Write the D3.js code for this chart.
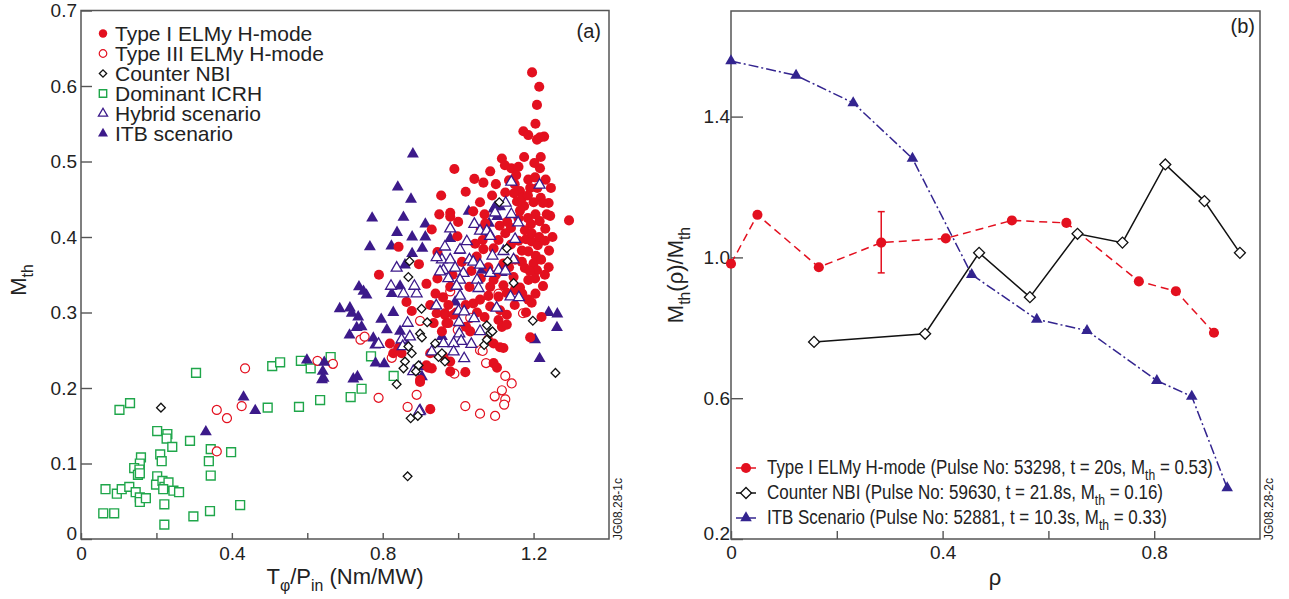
<!DOCTYPE html>
<html>
<head>
<meta charset="utf-8">
<title>Mth scatter and profiles</title>
<script src="https://cdn.jsdelivr.net/npm/d3@7"></script>
<style>
  body { margin: 0; background: #fff; }
  svg text { font-family: "Liberation Sans", Arial, Helvetica, sans-serif; fill: #222; }
</style>
</head>
<body>
<svg id="chart" width="1289" height="599"></svg>
<script>

// ---- panel (a): [T_phi/P_in, M_th] pairs ----
const typeI = [
  [1.196,0.618],[1.215,0.599],[1.209,0.575],[1.205,0.550],[1.173,0.540],[1.186,0.535],[1.209,0.529],[1.228,0.533],[1.217,0.532],
  [1.116,0.504],[1.124,0.495],[1.141,0.491],[1.160,0.493],[1.175,0.506],[1.219,0.506],[1.217,0.491],[1.202,0.498],[0.990,0.490],
  [1.085,0.487],[1.043,0.477],[1.067,0.472],[1.154,0.482],[1.186,0.476],[1.204,0.479],[1.232,0.476],[1.246,0.465],[1.191,0.465],
  [1.164,0.461],[1.148,0.458],[1.125,0.459],[1.219,0.452],[1.200,0.446],[1.175,0.441],[1.156,0.447],[1.058,0.446],[1.040,0.434],
  [0.979,0.432],[0.979,0.427],[1.244,0.428],[1.216,0.421],[1.294,0.422],[1.193,0.417],[1.164,0.435],[1.231,0.411],[1.177,0.409],
  [1.125,0.405],[1.072,0.418],[0.998,0.401],[1.045,0.391],[1.065,0.396],[1.107,0.396],[1.180,0.397],[1.195,0.394],[1.211,0.389],
  [1.169,0.382],[1.241,0.382],[1.186,0.381],[1.206,0.375],[1.094,0.385],[1.067,0.384],[1.049,0.374],[1.151,0.370],[1.169,0.367],
  [1.200,0.365],[1.177,0.359],[1.209,0.356],[1.147,0.347],[1.186,0.343],[1.204,0.345],[1.094,0.343],[1.010,0.367],[0.979,0.334],
  [1.030,0.334],[1.085,0.334],[1.120,0.336],[1.164,0.333],[0.974,0.310],[0.965,0.299],[0.988,0.297],[1.040,0.312],[1.058,0.317],
  [1.085,0.308],[1.070,0.294],[1.111,0.303],[1.129,0.297],[1.107,0.290],[1.116,0.281],[1.129,0.284],[1.107,0.321],[1.129,0.326],
  [1.186,0.317],[1.195,0.313],[1.221,0.294],[1.021,0.281],[1.032,0.275],[0.969,0.286],[0.979,0.235],[0.979,0.222],[1.019,0.221],
  [1.094,0.233],[1.103,0.227],[1.191,0.267],[1.094,0.259],[1.111,0.254],[1.120,0.253],[1.079,0.264],[0.961,0.242],[0.828,0.246],
  [0.850,0.246],[0.899,0.211],[0.916,0.230],[0.930,0.226],[0.926,0.172],[0.926,0.310],[0.965,0.297],[0.974,0.286],[0.957,0.275],
  [0.926,0.246],[0.842,0.253],[0.863,0.314],[0.877,0.302],[0.935,0.286],[0.943,0.299],[0.921,0.227],[0.899,0.208],[0.819,0.259],
  [0.930,0.410],[0.842,0.387],[0.896,0.364],[0.790,0.350],[0.916,0.338],[0.955,0.455],[0.945,0.380],[0.960,0.320],[1.150,0.310],
  [1.180,0.300],[1.230,0.350],[1.250,0.400],[1.240,0.445],[1.100,0.470],[1.130,0.420],[1.060,0.410],
  [1.135,0.475],[1.150,0.470],[1.170,0.452],[1.185,0.455],[1.210,0.465],[1.225,0.445],[1.235,0.430],[1.205,0.430],[1.185,0.425],
  [1.160,0.425],[1.140,0.412],[1.110,0.415],[1.195,0.405],[1.215,0.400],[1.230,0.395],[1.160,0.395],[1.140,0.390],[1.120,0.365],
  [1.135,0.360],[1.190,0.355],[1.220,0.370],[1.240,0.360],[1.225,0.335],[1.205,0.325],[1.170,0.325],[1.150,0.330],[1.080,0.322],
  [1.050,0.300],[1.020,0.310],[0.995,0.300],[1.060,0.345],[1.035,0.355],[1.080,0.360],[1.100,0.350],[1.070,0.430],[1.090,0.455],
  [1.020,0.460],[1.000,0.420],[0.950,0.430],[0.945,0.345],[0.940,0.325],[0.985,0.350]
];
const typeIII = [
  [0.360,0.171],[0.387,0.160],[0.426,0.176],[0.360,0.116],[0.435,0.226],[0.741,0.264],[0.752,0.268],[0.627,0.236],[0.668,0.232],
  [0.789,0.187],[0.824,0.240],[0.866,0.175],[0.890,0.191],[1.058,0.166],[1.019,0.176],[1.098,0.163],[1.097,0.189],[1.116,0.197],
  [1.125,0.185],[1.122,0.178],[1.142,0.206],[1.125,0.216],[1.074,0.233],[1.058,0.250],[1.065,0.249],[1.172,0.299],[0.990,0.219],
  [0.899,0.289],[0.979,0.328],[1.107,0.325],[0.999,0.277],[1.032,0.293]
];
const counterNBI = [
  [0.212,0.174],[0.903,0.305],[0.918,0.287],[0.899,0.272],[0.904,0.267],[0.868,0.255],[0.877,0.246],[0.859,0.235],[0.855,0.226],
  [0.895,0.230],[0.888,0.222],[0.837,0.205],[0.874,0.160],[0.893,0.163],[0.866,0.083],[0.939,0.259],[0.948,0.241],[0.957,0.246],
  [0.965,0.235],[1.076,0.283],[1.085,0.273],[1.069,0.257],[1.076,0.264],[1.091,0.275],[1.198,0.289],[1.258,0.220],[0.871,0.368],
  [0.868,0.347],[1.109,0.446],[1.129,0.385],[1.131,0.368],[1.147,0.339]
];
const icrh = [
  [0.102,0.171],[0.130,0.180],[0.202,0.143],[0.229,0.139],[0.227,0.133],[0.242,0.122],[0.289,0.130],[0.344,0.119],[0.398,0.115],
  [0.339,0.103],[0.344,0.084],[0.159,0.108],[0.156,0.100],[0.141,0.094],[0.155,0.092],[0.151,0.085],[0.156,0.087],[0.210,0.112],
  [0.214,0.103],[0.065,0.066],[0.095,0.060],[0.108,0.066],[0.128,0.069],[0.145,0.062],[0.156,0.055],[0.156,0.049],[0.172,0.054],
  [0.202,0.083],[0.199,0.072],[0.216,0.077],[0.221,0.069],[0.232,0.075],[0.218,0.066],[0.245,0.064],[0.260,0.062],[0.059,0.034],
  [0.088,0.034],[0.221,0.046],[0.221,0.019],[0.298,0.030],[0.342,0.037],[0.422,0.045],[0.495,0.174],[0.578,0.175],[0.634,0.184],
  [0.305,0.220],[0.507,0.229],[0.528,0.234],[0.583,0.236],[0.609,0.226],[0.662,0.241],[0.769,0.242],[0.829,0.216],[0.744,0.199],
  [0.715,0.188]
];
const hybrid = [
  [1.141,0.473],[1.216,0.469],[1.126,0.445],[1.141,0.430],[1.159,0.419],[1.098,0.432],[1.043,0.417],[1.058,0.408],[1.076,0.408],
  [1.085,0.401],[0.979,0.411],[1.023,0.394],[0.965,0.387],[1.005,0.383],[1.151,0.397],[1.091,0.375],[1.147,0.370],[1.120,0.381],
  [0.957,0.370],[0.979,0.370],[1.030,0.370],[1.040,0.367],[1.058,0.363],[0.961,0.356],[0.992,0.359],[1.014,0.352],[1.085,0.352],
  [1.107,0.356],[1.125,0.355],[0.974,0.345],[1.005,0.343],[1.050,0.343],[0.996,0.335],[1.054,0.332],[1.005,0.322],[1.001,0.302],
  [1.016,0.301],[1.042,0.292],[1.002,0.287],[1.102,0.306],[1.139,0.321],[1.161,0.320],[1.058,0.275],[1.003,0.272],[1.008,0.262],
  [0.988,0.259],[1.035,0.258],[0.988,0.248],[1.016,0.239],[0.866,0.286],[0.850,0.264],[0.872,0.268],[0.853,0.255],[0.789,0.258],
  [0.881,0.222],[0.899,0.170],[0.930,0.248],[0.942,0.309],[0.855,0.325],[0.890,0.325],[0.837,0.359],[0.822,0.335],[0.884,0.335],
  [0.943,0.373],[0.952,0.354],[0.961,0.259],[0.897,0.169]
];
const itb = [
  [0.880,0.510],[0.840,0.466],[0.875,0.450],[0.772,0.425],[0.855,0.426],[0.913,0.417],[0.838,0.406],[0.878,0.400],[0.913,0.400],
  [0.766,0.387],[0.823,0.388],[0.905,0.385],[0.878,0.378],[0.859,0.363],[0.737,0.334],[0.846,0.335],[1.028,0.434],[1.094,0.437],
  [1.104,0.427],[1.098,0.440],[1.111,0.440],[1.082,0.418],[0.979,0.398],[1.083,0.405],[1.003,0.382],[1.063,0.356],[1.116,0.353],
  [0.996,0.336],[0.686,0.305],[0.713,0.306],[0.718,0.299],[0.735,0.294],[0.731,0.280],[0.744,0.281],[0.712,0.270],[0.796,0.291],
  [0.811,0.277],[0.828,0.300],[0.846,0.275],[0.775,0.266],[0.780,0.257],[0.843,0.257],[0.781,0.233],[0.804,0.232],[0.599,0.237],
  [0.645,0.234],[0.641,0.222],[0.643,0.213],[0.722,0.212],[0.733,0.215],[0.757,0.323],[0.749,0.328],[0.824,0.325],[0.899,0.228],
  [0.904,0.215],[0.863,0.259],[1.240,0.300],[1.263,0.298],[1.262,0.280],[1.204,0.264],[1.216,0.239],[0.992,0.314],[0.957,0.268],
  [0.331,0.142],[0.431,0.188],[0.462,0.170],[0.639,0.211]
];

// ---- panel (b): profiles vs rho ----
const rhoTypeI = [0, 0.050, 0.166, 0.284, 0.406, 0.531, 0.634, 0.771, 0.841, 0.913];
const mTypeI   = [0.982, 1.121, 0.972, 1.042, 1.054, 1.105, 1.098, 0.932, 0.904, 0.786];
const errTypeI = [0.284, 0.956, 1.130];   // rho, low, high
const rhoNBI = [0.157, 0.367, 0.469, 0.565, 0.655, 0.740, 0.821, 0.895, 0.962];
const mNBI   = [0.760, 0.783, 1.013, 0.887, 1.067, 1.042, 1.264, 1.160, 1.013];
const rhoITB = [0, 0.123, 0.231, 0.343, 0.455, 0.578, 0.673, 0.805, 0.871, 0.938];
const mITB   = [1.558, 1.517, 1.439, 1.281, 0.951, 0.824, 0.792, 0.650, 0.605, 0.345];

// ticks
const xTicksA = [0, 0.2, 0.4, 0.6, 0.8, 1.0, 1.2], xLabelsA = [0, 0.4, 0.8, 1.2];
const yTicksA = [0, 0.1, 0.2, 0.3, 0.4, 0.5, 0.6, 0.7];
const xTicksB = [0, 0.2, 0.4, 0.6, 0.8], xLabelsB = [0, 0.4, 0.8];
const yTicksB = [0.2, 0.6, 1.0, 1.4];

const RED = "#e3101f", PURPLE = "#3c1a8a", GREEN = "#1fa64a", BLUE = "#33248f";

const svg = d3.select("#chart");

const xA = d3.scaleLinear().domain([0, 1.4]).range([81, 609]);
const yA = d3.scaleLinear().domain([0, 0.7]).range([539, 10.5]);
const xB = d3.scaleLinear().domain([0, 1]).range([731, 1260]);
const yB = d3.scaleLinear().domain([0.2, 1.7]).range([539, 11]);

const fmt = d => d === 0 ? "0" : d3.format(".1f")(d);

function styleAxis(g, lowest) {
  g.select(".domain").remove();
  g.selectAll(".tick line").attr("stroke", "#555").attr("stroke-width", 1.4);
  g.selectAll(".tick text").attr("font-size", 19).attr("fill", "#222")
    .attr("font-family", '"Liberation Sans", Arial, sans-serif');
  if (lowest !== undefined)
    g.selectAll(".tick text").filter(d => d === lowest).attr("dy", "0.02em");
}

// panel (a) axes
svg.append("g").attr("transform", "translate(0,539)")
  .call(d3.axisBottom(xA).tickValues(xTicksA).tickSize(-6).tickPadding(8)
    .tickFormat(d => xLabelsA.includes(d) ? fmt(d) : ""))
  .call(g => styleAxis(g));
svg.append("g").attr("transform", "translate(81,0)")
  .call(d3.axisLeft(yA).tickValues(yTicksA).tickSize(-11).tickPadding(4).tickFormat(fmt))
  .call(g => styleAxis(g, 0));
svg.append("rect").attr("x", 81).attr("y", 10.5).attr("width", 528).attr("height", 528.5)
  .attr("fill", "none").attr("stroke", "#555").attr("stroke-width", 1.5);

// panel (b) axes
svg.append("g").attr("transform", "translate(0,539)")
  .call(d3.axisBottom(xB).tickValues(xTicksB).tickSize(-8).tickPadding(7)
    .tickFormat(d => xLabelsB.includes(d) ? fmt(d) : ""))
  .call(g => styleAxis(g));
svg.append("g").attr("transform", "translate(731,0)")
  .call(d3.axisLeft(yB).tickValues(yTicksB).tickSize(-12).tickPadding(1).tickFormat(d3.format(".1f")))
  .call(g => styleAxis(g, 0.2));
svg.append("rect").attr("x", 731).attr("y", 11).attr("width", 529).attr("height", 528)
  .attr("fill", "none").attr("stroke", "#555").attr("stroke-width", 1.5);

// markers
const shapes = {
  typeI:   { type: d3.symbolCircle,   size: 80, fill: RED,    stroke: "none", sw: 0 },
  typeIII: { type: d3.symbolCircle,   size: 64, fill: "#fff", stroke: RED,    sw: 1.2 },
  counter: { type: d3.symbolSquare,   size: 38, fill: "#fff", stroke: "#111", sw: 1.3, rot: 45 },
  icrh:    { type: d3.symbolSquare,   size: 78, fill: "#fff", stroke: GREEN,  sw: 1.4 },
  hybrid:  { type: d3.symbolTriangle, size: 52, fill: "#fff", stroke: PURPLE, sw: 1.3 },
  itb:     { type: d3.symbolTriangle, size: 62, fill: PURPLE, stroke: "none", sw: 0 }
};

function drawPoints(g, data, s, x, y) {
  g.selectAll(null).data(data).enter().append("path")
    .attr("d", d3.symbol().type(s.type).size(s.size))
    .attr("transform", d => `translate(${x(d[0])},${y(d[1])})` + (s.rot ? ` rotate(${s.rot})` : ""))
    .attr("fill", s.fill).attr("stroke", s.stroke).attr("stroke-width", s.sw);
}

const scatter = svg.append("g");
drawPoints(scatter, icrh, shapes.icrh, xA, yA);
drawPoints(scatter, typeIII, shapes.typeIII, xA, yA);
drawPoints(scatter, itb, shapes.itb, xA, yA);
drawPoints(scatter, typeI, shapes.typeI, xA, yA);
drawPoints(scatter, hybrid, shapes.hybrid, xA, yA);
drawPoints(scatter, counterNBI, shapes.counter, xA, yA);

// legend (a)
const legA = [
  ["Type I ELMy H-mode", shapes.typeI],
  ["Type III ELMy H-mode", shapes.typeIII],
  ["Counter NBI", shapes.counter],
  ["Dominant ICRH", shapes.icrh],
  ["Hybrid scenario", shapes.hybrid],
  ["ITB scenario", shapes.itb]
];
legA.forEach(([label, s], i) => {
  const by = 40.5 + i * 20;
  drawPoints(svg, [[0, 0]], Object.assign({}, s, { size: s.size * 0.7 }), () => 103, () => by - 7);
  svg.append("text").attr("x", 115).attr("y", by).attr("font-size", 21).text(label);
});

// text helper with subscripts: parts = [[str, isSub], ...]
function richText(g, parts, size) {
  const t = g.append("text").attr("font-size", size);
  const shift = size * 0.3;
  let prevSub = false;
  parts.forEach(([str, sub]) => {
    const ts = t.append("tspan").text(str);
    if (sub) ts.attr("font-size", size * 0.72);
    if (sub && !prevSub) ts.attr("dy", shift);
    if (!sub && prevSub) ts.attr("dy", -shift);
    prevSub = sub;
  });
  return t;
}

// panel (a) labels
richText(svg, [["T", false], ["\u03c6", true], ["/P", false], ["in", true], [" (Nm/MW)", false]], 22)
  .attr("x", 345).attr("y", 584).attr("text-anchor", "middle");
richText(svg, [["M", false], ["th", true]], 22)
  .attr("text-anchor", "middle").attr("transform", "translate(26,280) rotate(-90)");
svg.append("text").attr("x", 601).attr("y", 38).attr("text-anchor", "end").attr("font-size", 20).text("(a)");
svg.append("text").attr("font-size", 12).attr("transform", "translate(622,540) rotate(-90)").text("JG08.28-1c");

// panel (b) lines
const lineB = d3.line().x(d => xB(d[0])).y(d => yB(d[1]));
const series = [
  { rho: rhoTypeI, m: mTypeI, color: RED, dash: "8,5",
    mark: { type: d3.symbolCircle, size: 80, fill: RED, stroke: "none", sw: 0 } },
  { rho: rhoNBI, m: mNBI, color: "#111", dash: null,
    mark: { type: d3.symbolSquare, size: 60, fill: "#fff", stroke: "#111", sw: 1.3, rot: 45 } },
  { rho: rhoITB, m: mITB, color: BLUE, dash: "10,3,2,3",
    mark: { type: d3.symbolTriangle, size: 58, fill: BLUE, stroke: "none", sw: 0 } }
];
series.forEach(s => {
  const pts = d3.zip(s.rho, s.m);
  svg.append("path").datum(pts).attr("d", lineB).attr("fill", "none")
    .attr("stroke", s.color).attr("stroke-width", 1.5).attr("stroke-dasharray", s.dash);
  drawPoints(svg, pts, s.mark, xB, yB);
});

// error bar on the Type I profile
const eb = svg.append("g").attr("stroke", RED).attr("stroke-width", 1.5);
eb.append("line").attr("x1", xB(errTypeI[0])).attr("x2", xB(errTypeI[0]))
  .attr("y1", yB(errTypeI[1])).attr("y2", yB(errTypeI[2]));
[errTypeI[1], errTypeI[2]].forEach(v => eb.append("line")
  .attr("x1", xB(errTypeI[0]) - 3.5).attr("x2", xB(errTypeI[0]) + 3.5)
  .attr("y1", yB(v)).attr("y2", yB(v)));

// legend (b)
const legB = [
  [[["Type I ELMy H-mode (Pulse No: 53298, t = 20s, M", false], ["th", true], [" = 0.53)", false]], 446],
  [[["Counter NBI (Pulse No: 59630, t = 21.8s, M", false], ["th", true], [" = 0.16)", false]], 396],
  [[["ITB Scenario (Pulse No: 52881, t = 10.3s, M", false], ["th", true], [" = 0.33)", false]], 400]
];
legB.forEach(([parts, len], i) => {
  const by = 474 + i * 25, s = series[i];
  svg.append("line").attr("x1", 736).attr("x2", 756).attr("y1", by - 6).attr("y2", by - 6)
    .attr("stroke", s.color).attr("stroke-width", 1.5);
  drawPoints(svg, [[0, 0]], s.mark, () => 746, () => by - 6);
  richText(svg, parts, 20).attr("x", 767).attr("y", by)
    .attr("textLength", len).attr("lengthAdjust", "spacingAndGlyphs");
});

richText(svg, [["M", false], ["th", true], ["(\u03c1)/M", false], ["th", true]], 22)
  .attr("text-anchor", "middle").attr("transform", "translate(683,275) rotate(-90)");
svg.append("text").attr("x", 995).attr("y", 585).attr("text-anchor", "middle").attr("font-size", 22).text("\u03c1");
svg.append("text").attr("x", 1255).attr("y", 33).attr("text-anchor", "end").attr("font-size", 20).text("(b)");
svg.append("text").attr("font-size", 12).attr("transform", "translate(1273,540) rotate(-90)").text("JG08.28-2c");

</script>
</body>
</html>
